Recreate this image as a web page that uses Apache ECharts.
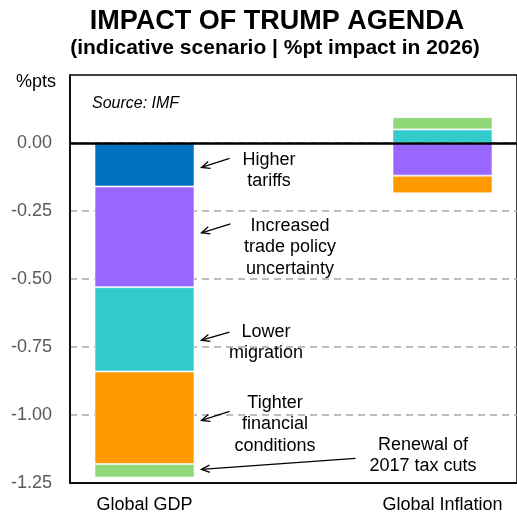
<!DOCTYPE html>
<html>
<head>
<meta charset="utf-8">
<script src="https://cdn.jsdelivr.net/npm/echarts@6/dist/echarts.min.js"></script>
<style>
  html, body { margin: 0; padding: 0; background: #fff; }
  #chart { width: 517px; height: 517px; }
</style>
</head>
<body>
<div id="chart"></div>
<script>
// Categories (middle slot is an empty gap used for the annotations)
const categories = ['Global GDP', '', 'Global Inflation'];

// Contributions in percentage points, per category
const higherTariffs     = [-0.16, null, null];
const tradeUncertainty  = [-0.37, null, -0.12];
const lowerMigration    = [-0.31, null, 0.05];
const tighterFinancial  = [-0.34, null, -0.065];
const taxCutRenewal     = [-0.05, null, 0.045];

const yTicks = [-1.25, -1.00, -0.75, -0.50, -0.25, 0.00];

const seriesDefs = [
  { name: 'Higher tariffs', data: higherTariffs, color: '#0070C0' },
  { name: 'Increased trade policy uncertainty', data: tradeUncertainty, color: '#9966FF' },
  { name: 'Lower migration', data: lowerMigration, color: '#33CCCC' },
  { name: 'Tighter financial conditions', data: tighterFinancial, color: '#FF9900' },
  { name: 'Renewal of 2017 tax cuts', data: taxCutRenewal, color: '#8FD878' }
];

const FONT = 'Liberation Sans, Arial, sans-serif';
const chart = echarts.init(document.getElementById('chart'), null, { renderer: 'canvas' });

const series = seriesDefs.map((s, i) => ({
  name: s.name,
  type: 'bar',
  stack: 'impact',
  barWidth: 100,
  data: s.data,
  itemStyle: { color: s.color, borderColor: 'rgba(255,255,255,0.6)', borderWidth: 1 },
  animation: false,
  markLine: i === 0 ? {
    silent: true,
    symbol: 'none',
    label: { show: false },
    lineStyle: { color: '#000', width: 2.5, type: 'solid' },
    data: [{ yAxis: 0 }]
  } : undefined
}));

chart.setOption({
  animation: false,
  title: [
    {
      text: 'IMPACT OF TRUMP AGENDA',
      left: 272, top: 3, textAlign: 'center',
      textStyle: { fontFamily: FONT, fontSize: 27, fontWeight: 'bold', color: '#000' }
    },
    {
      text: '(indicative scenario | %pt impact in 2026)',
      left: 270, top: 33, textAlign: 'center',
      textStyle: { fontFamily: FONT, fontSize: 21, fontWeight: 'bold', color: '#000' }
    },
    {
      text: '%pts',
      left: 11, top: 68,
      textStyle: { fontFamily: FONT, fontSize: 18, fontWeight: 'normal', color: '#000' }
    },
    {
      text: 'Source: IMF',
      left: 87, top: 91,
      textStyle: { fontFamily: FONT, fontSize: 16, fontStyle: 'italic', fontWeight: 'normal', color: '#000' }
    }
  ],
  grid: {
    left: 70, right: -3, top: 75, bottom: 34,
    show: true, borderColor: '#000', borderWidth: 1.5, backgroundColor: 'transparent'
  },
  xAxis: {
    type: 'category',
    data: categories,
    axisLine: { show: true, onZero: false, lineStyle: { color: '#000', width: 1.5 } },
    axisTick: { show: false },
    axisLabel: { fontFamily: FONT, fontSize: 18, color: '#000', margin: 13 },
    splitLine: { show: false }
  },
  yAxis: {
    type: 'value',
    min: -1.25, max: 0.25, interval: 0.25,
    axisLine: { show: true, lineStyle: { color: '#000', width: 1.5 } },
    axisTick: { show: false },
    axisLabel: {
      fontFamily: FONT, fontSize: 18, color: '#595959', margin: 18,
      formatter: v => {
        const hit = yTicks.find(t => Math.abs(t - v) < 1e-9);
        if (hit === undefined) return '';
        return (Math.abs(hit) < 1e-9 ? 0 : hit).toFixed(2);
      }
    },
    splitLine: {
      show: true, showMinLine: false, showMaxLine: false,
      lineStyle: { color: '#A6A6A6', width: 1.5, type: [7, 5] }
    }
  },
  series: series
});

// Annotations: text blocks with arrows pointing at each GDP segment
const notes = [
  { lines: ['Higher', 'tariffs'], tipValue: -0.09, textX: 269, textY: 149, fromDx: 28, fromDy: -9 },
  { lines: ['Increased', 'trade policy', 'uncertainty'], tipValue: -0.33, textX: 290, textY: 215, fromDx: 29, fromDy: -9 },
  { lines: ['Lower', 'migration'], tipValue: -0.725, textX: 266, textY: 321, fromDx: 28, fromDy: -8 },
  { lines: ['Tighter', 'financial', 'conditions'], tipValue: -1.02, textX: 275, textY: 392, fromDx: 28, fromDy: -9 },
  { lines: ['Renewal of', '2017 tax cuts'], tipValue: -1.20, textX: 423, textY: 434, fromDx: 154, fromDy: -11 }
];

const graphics = [];
const barRight = chart.convertToPixel({ xAxisIndex: 0 }, categories[0]) + 50;
notes.forEach(n => {
  const tipY = chart.convertToPixel({ yAxisIndex: 0 }, n.tipValue);
  const tipX = barRight + 7;
  const fx = tipX + n.fromDx, fy = tipY + n.fromDy;
  graphics.push({
    type: 'text',
    x: n.textX, y: n.textY,
    style: {
      text: n.lines.join('\n'),
      fontFamily: FONT, fontSize: 18, fill: '#000',
      align: 'center', verticalAlign: 'top', lineHeight: 21.5
    }
  });
  graphics.push({
    type: 'line',
    shape: { x1: fx, y1: fy, x2: tipX, y2: tipY },
    style: { stroke: '#000', lineWidth: 1.3 }
  });
  // open arrow head
  const ang = Math.atan2(fy - tipY, fx - tipX);
  const len = 9, spread = 0.42;
  graphics.push({
    type: 'polyline',
    shape: {
      points: [
        [tipX + len * Math.cos(ang + spread), tipY + len * Math.sin(ang + spread)],
        [tipX, tipY],
        [tipX + len * Math.cos(ang - spread), tipY + len * Math.sin(ang - spread)]
      ]
    },
    style: { stroke: '#000', lineWidth: 1.3, fill: null }
  });
});
chart.setOption({ graphic: graphics });
</script>
</body>
</html>
